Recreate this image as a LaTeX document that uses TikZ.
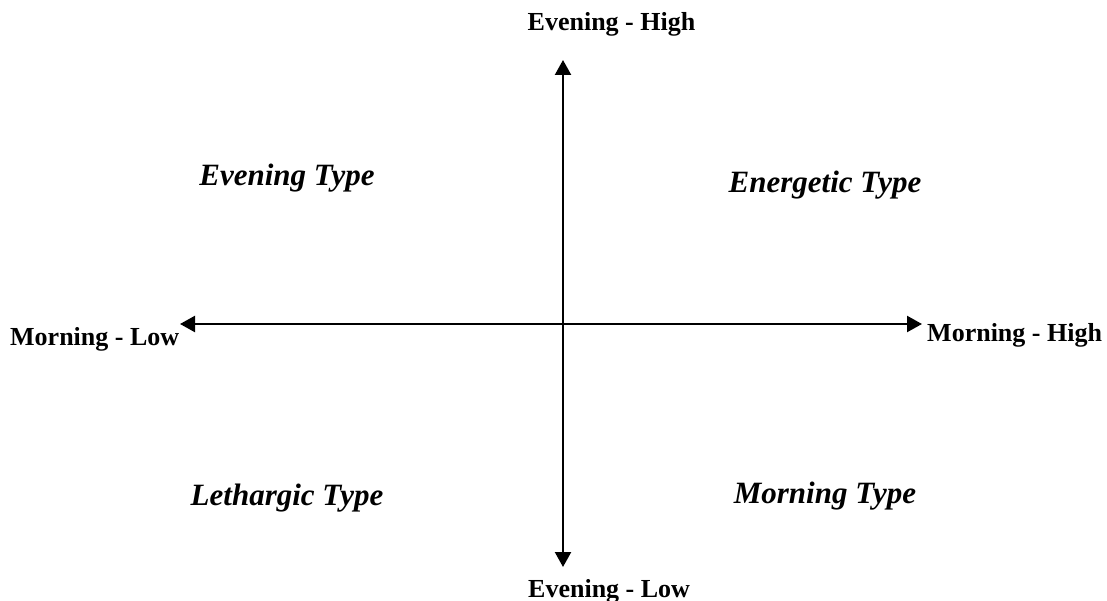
\documentclass[tikz,border=0pt]{standalone}
\usepackage{fontspec}
\setmainfont{Liberation Serif}
\usetikzlibrary{arrows.meta}
\begin{document}
\begin{tikzpicture}[x=1pt,y=-1pt,
  axislabel/.style={font=\fontsize{26}{30}\selectfont\bfseries, inner sep=0pt},
  quadlabel/.style={font=\fontsize{31}{36}\selectfont\bfseries\itshape, inner sep=0pt},
  axisline/.style={line width=1.5pt, black},
  axisend/.style={line width=2.3pt, black, -{Triangle[length=15pt,width=16pt]}}
]
\useasboundingbox (0,0) rectangle (1107,601);
% axis coordinates
\coordinate (O) at (563,324);
\coordinate (T) at (563,60);
\coordinate (Tm) at (563,105);
\coordinate (B) at (563,567);
\coordinate (Bm) at (563,522);
\coordinate (L) at (180,324);
\coordinate (Lm) at (227,324);
\coordinate (R) at (922,324);
\coordinate (Rm) at (850,324);
% axes
\draw[axisline] (Lm) -- (Rm);
\draw[axisline] (Tm) -- (Bm);
\draw[axisend] (Lm) -- (L);
\draw[axisend] (Rm) -- (R);
\draw[axisend] (Tm) -- (T);
\draw[axisend] (Bm) -- (B);
% axis labels
\node[axislabel, anchor=base] (eh) at (611.5,31) {Evening - High};
\node[axislabel, anchor=base west] (el) at (528,597) {Evening - Low};
\node[axislabel, anchor=base west] (ml) at (10,345) {Morning - Low};
\node[axislabel, anchor=base west] (mh) at (927,341) {Morning - High};
% quadrant labels
\node[quadlabel, anchor=base] (et) at (287,186) {Evening Type};
\node[quadlabel, anchor=base] (ent) at (825,193) {Energetic Type};
\node[quadlabel, anchor=base] (lt) at (287,505) {Lethargic Type};
\node[quadlabel, anchor=base] (mt) at (825,503) {Morning Type};
\end{tikzpicture}
\end{document}
